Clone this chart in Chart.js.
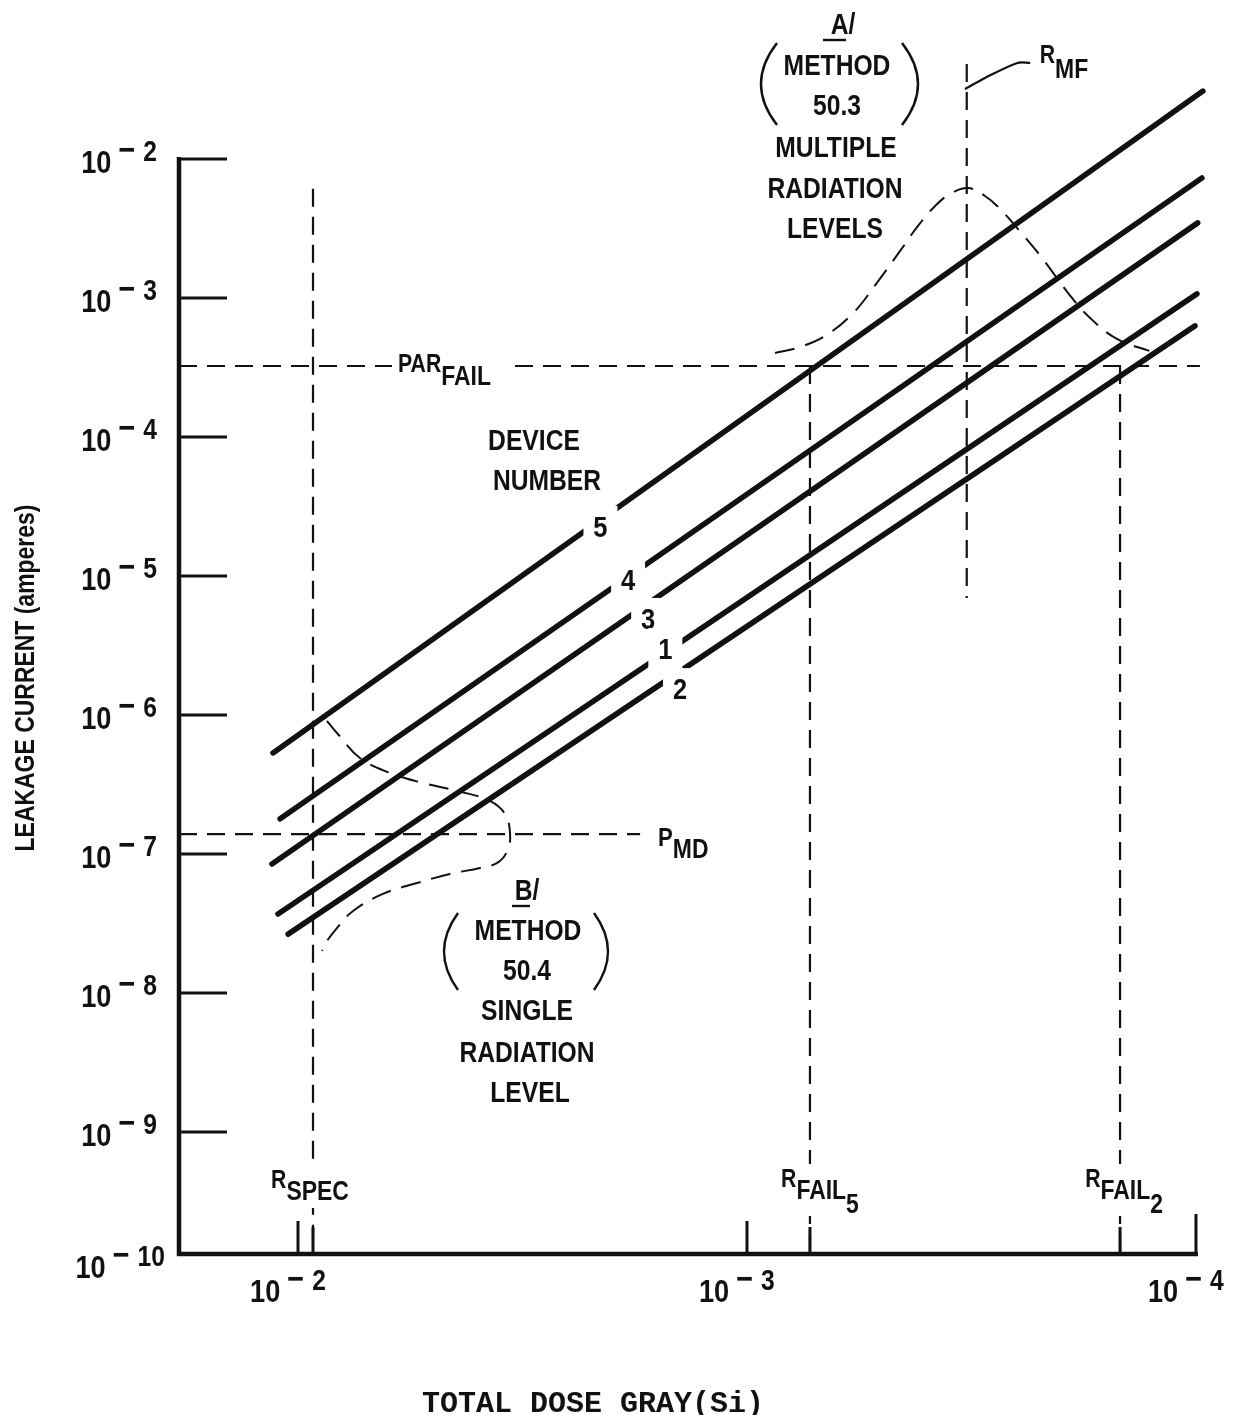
<!DOCTYPE html>
<html>
<head>
<meta charset="utf-8">
<script src="https://cdn.jsdelivr.net/npm/chart.js@4.4.1/dist/chart.umd.min.js"></script>
<style>
  html, body { margin: 0; padding: 0; background: #fff; }
</style>
</head>
<body>
<canvas id="chart" width="1233" height="1415"></canvas>
<script>
// device lines (dose in Gy(Si), leakage in A) at both ends
var devices = ['5', '4', '3', '1', '2'];
var doseStart = [0.01137, 0.01096, 0.01143, 0.01108, 0.01052];
var doseEnd = [9.65e-5, 9.70e-5, 9.91e-5, 9.95e-5, 1.005e-4];
var currentStart = [5.33e-7, 1.79e-7, 8.47e-8, 3.70e-8, 2.65e-8];
var currentEnd = [3.08e-2, 7.30e-3, 3.47e-3, 1.07e-3, 6.30e-4];

// where the device numbers sit on their lines
var numberDose = [2.12e-3, 1.84e-3, 1.66e-3, 1.52e-3, 1.41e-3];
var numberCurrent = [2.29e-5, 9.51e-6, 4.99e-6, 3.03e-6, 1.56e-6];

// reference levels
var rSpec = 9.26e-3, rFail5 = 7.24e-4, rFail2 = 1.476e-4, rMF = 3.24e-4;
var parFail = 3.24e-4, pMD = 1.39e-7;
var rSpecTop = 6.1e-3, rMFTop = 4.82e-2, rMFBottom = 6.95e-6;
var parFailEnd = 9.8e-5, pMDEnd = 1.73e-3;

// dashed distribution curves
var curveADose = [8.66e-4, 7.62e-4, 6.70e-4, 5.80e-4, 5.16e-4, 4.56e-4, 4.16e-4, 3.81e-4, 3.53e-4, 3.22e-4, 2.95e-4, 2.73e-4, 2.45e-4, 2.21e-4, 1.92e-4, 1.73e-4, 1.50e-4, 1.27e-4];
var curveACurrent = [4.02e-4, 4.44e-4, 5.33e-4, 7.80e-4, 1.26e-3, 2.18e-3, 3.30e-3, 4.59e-3, 5.60e-3, 6.18e-3, 5.42e-3, 4.37e-3, 2.94e-3, 1.97e-3, 1.07e-3, 7.30e-4, 5.07e-4, 4.16e-4];
var curveBDose = [8.62e-3, 8.15e-3, 7.28e-3, 6.24e-3, 5.27e-3, 4.42e-3, 3.74e-3, 3.46e-3, 3.37e-3, 3.42e-3, 3.60e-3, 3.93e-3, 4.59e-3, 5.43e-3, 6.47e-3, 7.54e-3, 8.19e-3, 8.71e-3, 8.84e-3];
var curveBCurrent = [9.05e-7, 7.30e-7, 4.90e-7, 3.83e-7, 3.24e-7, 2.84e-7, 2.41e-7, 1.94e-7, 1.39e-7, 1.05e-7, 8.62e-8, 7.93e-8, 7.18e-8, 6.18e-8, 5.16e-8, 3.89e-8, 2.93e-8, 2.25e-8, 2.01e-8];

// R_MF leader
var leaderDose = [3.27e-4, 2.95e-4, 2.50e-4, 2.34e-4];
var leaderCurrent = [3.19e-2, 3.83e-2, 4.91e-2, 4.91e-2];

// axis ticks (decade exponents)
var yDecades = [-2, -3, -4, -5, -6, -7, -8, -9];
var xDecades = [-2, -3, -4];

var X_MIN = 8.27e-5, X_MAX = 0.01841;
var Y_MIN = 1.324e-10, Y_MAX = 0.1;

var INK = '#111';
var FONT = '"Liberation Sans", "DejaVu Sans", Arial, sans-serif';
var SQ = 0.85;

function pts(xs, ys) {
  return xs.map(function (v, i) { return {x: v, y: ys[i]}; });
}

var datasets = devices.map(function (d, i) {
  return {
    label: 'Device ' + d,
    data: pts([doseStart[i], doseEnd[i]], [currentStart[i], currentEnd[i]]),
    borderColor: INK, borderWidth: 5.5, borderCapStyle: 'round'
  };
});

function dashed(label, xs, ys, extra) {
  var ds = {label: label, data: pts(xs, ys), borderColor: INK, borderWidth: 2.2, borderDash: [18, 10]};
  for (var k in extra) ds[k] = extra[k];
  return ds;
}

datasets.push(dashed('R SPEC', [rSpec, rSpec], [rSpecTop, Y_MIN]));
datasets.push(dashed('R FAIL5', [rFail5, rFail5], [parFail, Y_MIN]));
datasets.push(dashed('R FAIL2', [rFail2, rFail2], [parFail, Y_MIN]));
datasets.push(dashed('R MF', [rMF, rMF], [rMFTop, rMFBottom]));
datasets.push(dashed('PAR FAIL', [X_MAX, parFailEnd], [parFail, parFail]));
datasets.push(dashed('P MD', [X_MAX, pMDEnd], [pMD, pMD]));
datasets.push(dashed('A', curveADose, curveACurrent, {tension: 0.4, borderWidth: 2, borderDash: [20, 11]}));
datasets.push(dashed('B', curveBDose, curveBCurrent, {tension: 0.4, borderWidth: 2, borderDash: [20, 11]}));
datasets.push({label: 'leader', data: pts(leaderDose, leaderCurrent), borderColor: INK, borderWidth: 2.2, tension: 0.3});

// text helpers
function runs(ctx, list, x, y, align) {
  var total = 0;
  list.forEach(function (p) {
    ctx.font = 'bold ' + p.size + 'px ' + FONT;
    p.w = ctx.measureText(p.t).width * SQ;
    total += p.w + (p.gap || 0);
  });
  var cx = align === 'right' ? x - total : align === 'center' ? x - total / 2 : x;
  list.forEach(function (p) {
    cx += p.gap || 0;
    ctx.save();
    ctx.font = 'bold ' + p.size + 'px ' + FONT;
    ctx.textAlign = 'left';
    ctx.translate(cx, y + (p.dy || 0));
    ctx.scale(SQ, 1);
    ctx.fillText(p.t, 0, 0);
    ctx.restore();
    cx += p.w;
  });
  return total;
}

function line(ctx, s, x, y, size) {
  runs(ctx, [{t: s, size: size || 29}], x, y, 'center');
}

function power(exp) {
  return [{t: '10', size: 32}, {t: '\u2212', size: 34, dy: -12, gap: 7}, {t: String(-exp), size: 29, dy: -12, gap: 8}];
}

function knock(ctx, x, y, w, h) {
  ctx.save(); ctx.fillStyle = '#fff'; ctx.fillRect(x - w / 2, y - h / 2, w, h); ctx.restore();
}

function paren(ctx, x, top, bottom, bulge) {
  ctx.beginPath();
  ctx.moveTo(x, top);
  ctx.quadraticCurveTo(x + bulge, (top + bottom) / 2, x, bottom);
  ctx.stroke();
}

var figure = {
  id: 'figure',
  afterDatasetsDraw: function (chart) {
    var ctx = chart.ctx, a = chart.chartArea, xs = chart.scales.x, ys = chart.scales.y;
    ctx.save();
    ctx.strokeStyle = INK; ctx.fillStyle = INK; ctx.textBaseline = 'alphabetic';

    // axes
    var yTop = ys.getPixelForValue(1e-2);
    var xEnd = xs.getPixelForValue(1e-4);
    ctx.lineWidth = 4.5;
    ctx.beginPath();
    ctx.moveTo(a.left, yTop - 2); ctx.lineTo(a.left, a.bottom); ctx.lineTo(xEnd + 2, a.bottom);
    ctx.stroke();

    ctx.lineWidth = 3;
    yDecades.forEach(function (e) {
      var py = ys.getPixelForValue(Math.pow(10, e));
      ctx.beginPath(); ctx.moveTo(a.left, py); ctx.lineTo(a.left + 48, py); ctx.stroke();
      runs(ctx, power(e), 157, py + 14, 'right');
    });
    runs(ctx, power(-10), 165, a.bottom + 24, 'right');

    xDecades.forEach(function (e) {
      var px = xs.getPixelForValue(Math.pow(10, e));
      var len = e === -4 ? 40 : 33;
      ctx.beginPath(); ctx.moveTo(px, a.bottom); ctx.lineTo(px, a.bottom - len); ctx.stroke();
      runs(ctx, power(e), px - 48, a.bottom + 48, 'left');
    });
    [rSpec, rFail5, rFail2].forEach(function (v) {
      var px = xs.getPixelForValue(v);
      ctx.beginPath(); ctx.moveTo(px, a.bottom); ctx.lineTo(px, a.bottom - 27); ctx.stroke();
    });

    // device numbers on the lines
    devices.forEach(function (d, i) {
      var px = xs.getPixelForValue(numberDose[i]);
      var py = ys.getPixelForValue(numberCurrent[i]);
      knock(ctx, px, py, 34, 40);
      line(ctx, d, px, py + 11, 30);
    });

    // reference line labels
    var pxs = xs.getPixelForValue(rSpec);
    knock(ctx, pxs - 3, a.bottom - 68, 86, 44);
    runs(ctx, [{t: 'R', size: 25}, {t: 'SPEC', size: 27, dy: 12}], pxs - 3, a.bottom - 66, 'center');

    var pf5 = xs.getPixelForValue(rFail5);
    knock(ctx, pf5 + 10, a.bottom - 64, 96, 52);
    runs(ctx, [{t: 'R', size: 25}, {t: 'FAIL', size: 27, dy: 12}, {t: '5', size: 27, dy: 26}], pf5 + 10, a.bottom - 67, 'center');

    var pf2 = xs.getPixelForValue(rFail2);
    knock(ctx, pf2 + 4, a.bottom - 64, 96, 52);
    runs(ctx, [{t: 'R', size: 25}, {t: 'FAIL', size: 27, dy: 12}, {t: '2', size: 27, dy: 26}], pf2 + 4, a.bottom - 67, 'center');

    var pmf = xs.getPixelForValue(rMF);
    runs(ctx, [{t: 'R', size: 25}, {t: 'MF', size: 27, dy: 15}], pmf + 73, 63, 'left');

    var ppf = ys.getPixelForValue(parFail);
    knock(ctx, 452, ppf, 120, 20);
    runs(ctx, [{t: 'PAR', size: 25}, {t: 'FAIL', size: 27, dy: 13}], 398, ppf + 6, 'left');

    var ppm = ys.getPixelForValue(pMD);
    runs(ctx, [{t: 'P', size: 26}, {t: 'MD', size: 27, dy: 12}], xs.getPixelForValue(pMDEnd) + 18, ppm + 12, 'left');

    // device number caption
    line(ctx, 'DEVICE', 534, 450);
    line(ctx, 'NUMBER', 547, 490);

    // note A
    ctx.lineWidth = 2.4;
    runs(ctx, [{t: 'A', size: 29}, {t: '/', size: 29}], 843, 34, 'center');
    ctx.beginPath(); ctx.moveTo(823, 40); ctx.lineTo(846, 40); ctx.stroke();
    paren(ctx, 777, 43, 125, -32);
    paren(ctx, 902, 43, 125, 32);
    line(ctx, 'METHOD', 837, 75);
    line(ctx, '50.3', 837, 115);
    line(ctx, 'MULTIPLE', 836, 157);
    line(ctx, 'RADIATION', 835, 198);
    line(ctx, 'LEVELS', 835, 238);

    // note B
    runs(ctx, [{t: 'B', size: 29}, {t: '/', size: 29}], 527, 900, 'center');
    ctx.beginPath(); ctx.moveTo(512, 906); ctx.lineTo(530, 906); ctx.stroke();
    paren(ctx, 458, 913, 990, -28);
    paren(ctx, 594, 913, 990, 28);
    line(ctx, 'METHOD', 528, 940);
    line(ctx, '50.4', 527, 980);
    line(ctx, 'SINGLE', 527, 1020);
    line(ctx, 'RADIATION', 527, 1062);
    line(ctx, 'LEVEL', 530, 1102);

    // axis titles
    ctx.save();
    ctx.translate(34, 678);
    ctx.rotate(-Math.PI / 2);
    runs(ctx, [{t: 'LEAKAGE CURRENT (amperes)', size: 27}], 0, 0, 'center');
    ctx.restore();

    ctx.font = 'bold 30px "Liberation Mono", "DejaVu Sans Mono", monospace';
    ctx.textAlign = 'center';
    ctx.fillText('TOTAL DOSE GRAY(Si)', 593, 1412);

    ctx.restore();
  }
};

new Chart(document.getElementById('chart'), {
  type: 'scatter',
  data: {datasets: datasets},
  options: {
    responsive: false,
    animation: false,
    showLine: true,
    elements: {point: {radius: 0, hoverRadius: 0}},
    layout: {padding: {left: 179, right: 0, top: 20, bottom: 161}},
    plugins: {legend: {display: false}, tooltip: {enabled: false}},
    scales: {
      x: {type: 'logarithmic', reverse: true, min: X_MIN, max: X_MAX, display: false},
      y: {type: 'logarithmic', min: Y_MIN, max: Y_MAX, display: false}
    }
  },
  plugins: [figure]
});
</script>
</body>
</html>
